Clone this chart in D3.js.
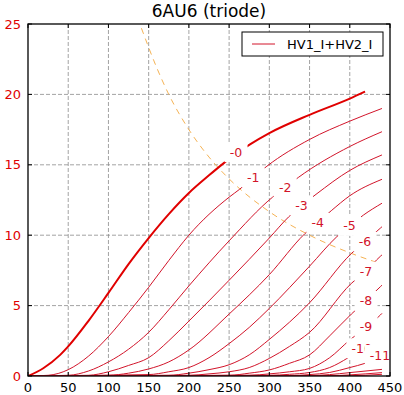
<!DOCTYPE html>
<html>
<head>
<meta charset="utf-8">
<script src="https://cdn.jsdelivr.net/npm/d3@7"></script>
<style>
  body { margin: 0; background: white; }
  text { font-family: "DejaVu Sans", sans-serif; }
</style>
</head>
<body>
<div id="chart"></div>
<script>
// plate voltage (V) / plate current (mA), one array per grid voltage
var grid_volts = ["-0", "-1", "-2", "-3", "-4", "-5", "-6", "-7", "-8", "-9", "-10", "-11", "-12", "-13", "-14"];
var curve_0 = [[0,0],[19,0.55],[40,1.5],[50,2.1],[75,3.9],[100,5.9],[125,7.95],[150,9.8],[175,11.5],[200,13.0],[225,14.25],[243,15.1],[259,15.8],[276,16.45],[300,17.25],[350,18.55],[400,19.7],[419,20.2]];
var curve_1 = [[0,0],[25,0.05],[50,0.45],[75,1.4],[100,2.8],[125,4.5],[150,6.3],[175,8.2],[200,10.0],[250,12.7],[263,13.26],[280,14.1],[297,14.9],[350,16.8],[400,18.1],[440,19.0]];
var curve_2 = [[0,0],[50,0.05],[75,0.35],[100,1.0],[125,1.9],[150,3.1],[175,4.7],[200,6.4],[250,9.6],[304,12.7],[320,13.4],[336,14.1],[400,16.3],[440,17.35]];
var curve_3 = [[0,0],[75,0.05],[100,0.3],[125,0.75],[150,1.3],[175,2.5],[200,3.9],[250,6.8],[300,9.8],[324,11.3],[340,12.1],[358,12.9],[400,14.6],[440,15.7]];
var curve_4 = [[0,0],[100,0.05],[125,0.2],[150,0.5],[175,1.0],[200,1.85],[250,4.4],[300,7.2],[344,10.1],[360,10.9],[377,11.74],[400,12.8],[440,13.97]];
var curve_5 = [[0,0],[150,0.1],[175,0.3],[200,0.6],[225,1.3],[250,2.3],[275,3.45],[300,4.8],[350,7.8],[384,9.9],[400,10.67],[417,11.43],[440,12.27]];
var curve_6 = [[0,0],[175,0.05],[200,0.2],[225,0.45],[250,0.8],[275,1.5],[300,2.6],[350,5.2],[402,8.7],[419,9.55],[438,10.5],[440,10.6]];
var curve_7 = [[0,0],[200,0.05],[225,0.15],[250,0.3],[275,0.6],[300,1.25],[325,2.1],[350,3.1],[402,6.58],[420,7.45],[438,8.5],[440,8.6]];
var curve_8 = [[0,0],[250,0.05],[275,0.2],[300,0.43],[325,0.9],[350,1.5],[375,2.85],[402,4.4],[420,5.35],[438,6.34],[440,6.45]];
var curve_9 = [[0,0],[275,0.05],[300,0.15],[325,0.3],[350,0.54],[375,1.3],[400,2.56],[420,3.45],[438,4.33],[440,4.45]];
var curve_10 = [[0,0],[300,0.05],[325,0.12],[350,0.25],[375,0.6],[398,1.3],[415,1.97],[430,2.5]];
var curve_11 = [[0,0],[325,0.03],[350,0.1],[375,0.25],[400,0.6],[419,0.9],[440,1.4]];
var curve_12 = [[0,0],[350,0.03],[375,0.1],[400,0.24],[440,0.47]];
var curve_13 = [[0,0],[375,0.02],[400,0.08],[440,0.24]];
var curve_14 = [[0,0],[400,0.02],[440,0.12]];
var curves = [curve_0, curve_1, curve_2, curve_3, curve_4, curve_5, curve_6, curve_7,
              curve_8, curve_9, curve_10, curve_11, curve_12, curve_13, curve_14];

// where each grid voltage label sits (on its curve)
var label_pos = [[258.6,15.9],[280,14.1],[319.7,13.42],[340,12.12],[360.3,10.88],[399.7,10.66],
                 [419,9.54],[420.2,7.41],[420.2,5.33],[420.2,3.5],[414.8,1.97],[437.6,1.49]];

// plate dissipation limit (dashed)
var pd_line = [[141,24.7],[160,21.9],[175,20.0],[200,17.5],[225,15.55],[250,14.0],[300,11.67],[350,10.0],[400,8.75],[437,8.0]];

var x_ticks = [0, 50, 100, 150, 200, 250, 300, 350, 400, 450];
var y_ticks = [0, 5, 10, 15, 20, 25];

var W = 404, H = 395;
var m = {left: 28, right: 14, top: 24, bottom: 19};
var RED = "#e00000";
var THIN_RED = "#d2142a";

var svg = d3.select("#chart").append("svg")
            .attr("width", W)
            .attr("height", H);

var x = d3.scaleLinear().domain([0, 450]).range([m.left, W - m.right]);
var y = d3.scaleLinear().domain([0, 25]).range([H - m.bottom, m.top]);

svg.append("clipPath").attr("id", "plot-clip")
  .append("rect")
    .attr("x", x(0)).attr("y", y(25))
    .attr("width", x(450) - x(0)).attr("height", y(0) - y(25));

// grid
var grid = svg.append("g");
x_ticks.slice(1, -1).forEach(function(t){
  grid.append("line")
    .attr("x1", x(t)).attr("x2", x(t)).attr("y1", y(0)).attr("y2", y(25))
    .attr("stroke", "#8c8c8c").attr("stroke-width", 0.8).attr("stroke-dasharray", "4,2");
});
y_ticks.slice(1, -1).forEach(function(t){
  grid.append("line")
    .attr("x1", x(0)).attr("x2", x(450)).attr("y1", y(t)).attr("y2", y(t))
    .attr("stroke", "#8c8c8c").attr("stroke-width", 0.8).attr("stroke-dasharray", "4,2");
});

var plot = svg.append("g").attr("clip-path", "url(#plot-clip)");

var line = d3.line()
  .x(function(d){ return x(d[0]); })
  .y(function(d){ return y(d[1]); })
  .curve(d3.curveMonotoneX);

// dissipation curve
plot.append("path")
  .attr("d", line(pd_line))
  .attr("fill", "none")
  .attr("stroke", "#f5b355")
  .attr("stroke-width", 1)
  .attr("stroke-dasharray", "6,5");

// draw the tube curves, thin ones first, -0 thick on top
for (var i = curves.length - 1; i >= 0; i--){
  plot.append("path")
    .attr("d", line(curves[i]))
    .attr("fill", "none")
    .attr("stroke", i == 0 ? RED : THIN_RED)
    .attr("stroke-width", i == 0 ? 2 : 1);
}

// labels with white boxes (they hide lines and grid behind them)
label_pos.forEach(function(p, i){
  var txt = grid_volts[i];
  var w = txt.length * 7.5 + 8;
  var g = plot.append("g").attr("transform", "translate(" + x(p[0]) + "," + y(p[1]) + ")");
  g.append("rect")
    .attr("x", -w / 2).attr("y", -10)
    .attr("width", w).attr("height", 20)
    .attr("fill", "white");
  g.append("text")
    .attr("text-anchor", "middle")
    .attr("dy", "0.36em")
    .attr("font-size", 12.5)
    .attr("fill", THIN_RED)
    .text(txt);
});

// frame
svg.append("rect")
  .attr("x", x(0)).attr("y", y(25))
  .attr("width", x(450) - x(0)).attr("height", y(0) - y(25))
  .attr("fill", "none").attr("stroke", "black").attr("stroke-width", 1.3);

// ticks inside on all sides
var ticks = svg.append("g").attr("stroke", "black").attr("stroke-width", 1);
x_ticks.forEach(function(t){
  ticks.append("line").attr("x1", x(t)).attr("x2", x(t)).attr("y1", y(0)).attr("y2", y(0) - 4);
  ticks.append("line").attr("x1", x(t)).attr("x2", x(t)).attr("y1", y(25)).attr("y2", y(25) + 4);
});
y_ticks.forEach(function(t){
  ticks.append("line").attr("x1", x(0)).attr("x2", x(0) + 4).attr("y1", y(t)).attr("y2", y(t));
  ticks.append("line").attr("x1", x(450)).attr("x2", x(450) - 4).attr("y1", y(t)).attr("y2", y(t));
});

// tick labels
x_ticks.forEach(function(t){
  svg.append("text")
    .attr("x", x(t)).attr("y", y(0) + 16)
    .attr("text-anchor", "middle")
    .attr("font-size", 13)
    .attr("fill", "black")
    .text(t);
});
y_ticks.forEach(function(t){
  svg.append("text")
    .attr("x", x(0) - 7).attr("y", y(t))
    .attr("dy", "0.36em")
    .attr("text-anchor", "end")
    .attr("font-size", 13)
    .attr("fill", RED)
    .text(t);
});

// title
svg.append("text")
  .attr("x", (x(0) + x(450)) / 2).attr("y", 17)
  .attr("text-anchor", "middle")
  .attr("font-size", 17)
  .text("6AU6 (triode)");

// legend
var lg = svg.append("g").attr("transform", "translate(242,32)");
lg.append("rect")
  .attr("width", 141).attr("height", 24)
  .attr("fill", "white").attr("stroke", "black").attr("stroke-width", 1);
lg.append("line")
  .attr("x1", 10).attr("x2", 33).attr("y1", 12).attr("y2", 12)
  .attr("stroke", THIN_RED).attr("stroke-width", 1);
lg.append("text")
  .attr("x", 45).attr("y", 12).attr("dy", "0.36em")
  .attr("font-size", 13)
  .text("HV1_I+HV2_I");
</script>
</body>
</html>
